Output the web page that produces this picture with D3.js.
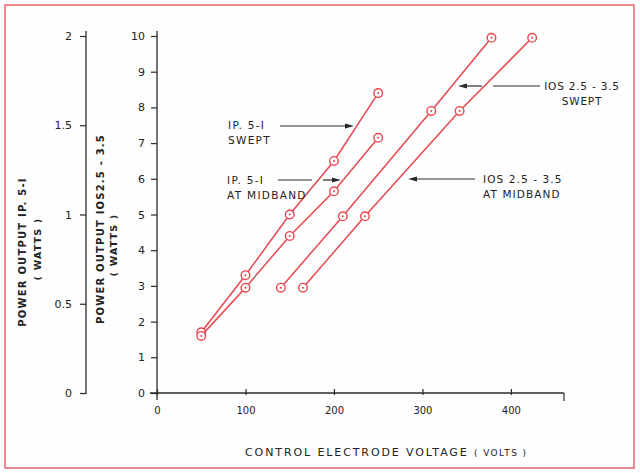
<!DOCTYPE html>
<html><head><meta charset="utf-8">
<script src="https://cdn.jsdelivr.net/npm/d3@7"></script>
<style>
body{margin:0;background:#fff;}
svg{display:block;}
text{font-family:"DejaVu Sans",sans-serif;fill:#222;}
</style></head>
<body><svg id="c" width="640" height="473"></svg>
<script>
// ---- data ----
const xTicks = [0,100,200,300,400];
const yTicks = [0,1,2,3,4,5,6,7,8,9,10];
const y2Ticks = [0,0.5,1,1.5,2];
const y2TickLabels = ["0","0.5","1","1.5","2"];
const ipSweptV = [50,100,150,200,250];
const ipSweptP = [1.7,3.3,5.0,6.5,8.4];
const ipMidV = [50,100,150,200,250];
const ipMidP = [1.6,2.95,4.4,5.65,7.15];
const iosSweptV = [140,210,310,378];
const iosSweptP = [2.95,4.95,7.9,9.95];
const iosMidV = [165,235,342,424];
const iosMidP = [2.95,4.95,7.9,9.95];

const RED = "#e8474f";
const INK = "#2a2a2a";
const svg = d3.select("#c");
svg.append("rect").attr("x",0).attr("y",0).attr("width",640).attr("height",473).attr("fill","#fefefe");
svg.append("rect").attr("x",5).attr("y",5).attr("width",629).attr("height",463)
  .attr("fill","none").attr("stroke","#e5656e").attr("stroke-width",1.5);

const x = d3.scaleLinear().domain([0,460]).range([157,564]);
const y = d3.scaleLinear().domain([0,10]).range([393,36]);
const y2 = d3.scaleLinear().domain([0,2]).range([393,36]);

// main y axis
const gy = svg.append("g").attr("transform","translate(157,0)")
  .call(d3.axisLeft(y).tickValues(yTicks).tickFormat(d3.format("d")).tickSize(6).tickPadding(6));
gy.select(".domain").remove();
gy.selectAll("line").attr("stroke",INK).attr("stroke-width",1.2);
gy.selectAll("text").attr("font-size",11).attr("fill",INK);
svg.append("line").attr("x1",157).attr("x2",157).attr("y1",31).attr("y2",400).attr("stroke",INK).attr("stroke-width",1.3);

// secondary y axis
const gy2 = svg.append("g").attr("transform","translate(86,0)")
  .call(d3.axisLeft(y2).tickValues(y2Ticks).tickFormat((d,i)=>y2TickLabels[i]).tickSize(6).tickPadding(8));
gy2.select(".domain").remove();
gy2.selectAll("line").attr("stroke",INK).attr("stroke-width",1.2);
gy2.selectAll("text").attr("font-size",11).attr("fill",INK);
svg.append("line").attr("x1",86).attr("x2",86).attr("y1",31).attr("y2",394).attr("stroke",INK).attr("stroke-width",1.3);

// x axis
const gx = svg.append("g").attr("transform","translate(0,393)")
  .call(d3.axisBottom(x).tickValues(xTicks).tickFormat(d3.format("d")).tickSizeInner(-4).tickSizeOuter(0).tickPadding(14));
gx.select(".domain").remove();
gx.selectAll("line").attr("stroke",INK).attr("stroke-width",1.2).attr("y2",-4).attr("y1",2);
gx.selectAll("text").attr("font-size",10).attr("fill",INK);
svg.append("line").attr("x1",150).attr("x2",x(460)).attr("y1",393).attr("y2",393).attr("stroke",INK).attr("stroke-width",1.3);
svg.append("line").attr("x1",x(460)).attr("x2",x(460)).attr("y1",393).attr("y2",401).attr("stroke",INK).attr("stroke-width",1.2);

// axis titles
svg.append("text").attr("x",245).attr("y",456).attr("font-size",11).attr("letter-spacing",1.9)
  .text("CONTROL ELECTRODE VOLTAGE ")
  .append("tspan").attr("font-size",9).attr("letter-spacing",1.4).text("( VOLTS )");
function vtitle(cx, cy, txt, size, ls){
  svg.append("text").attr("transform",`translate(${cx},${cy}) rotate(-90)`)
    .attr("text-anchor","middle").attr("dominant-baseline","central")
    .attr("font-size",size).attr("letter-spacing",ls).attr("font-weight","bold").text(txt);
}
vtitle(22,252,"POWER OUTPUT  IP. 5-I",10,1.2);
vtitle(37,249,"( WATTS )",9.5,1.2);
vtitle(100,229,"POWER OUTPUT  IOS2.5 - 3.5",10,1.2);
vtitle(113,245,"( WATTS )",9.5,1.2);

// series
const series = [[ipSweptV,ipSweptP],[ipMidV,ipMidP],[iosSweptV,iosSweptP],[iosMidV,iosMidP]];
const line = d3.line().x(d=>x(d[0])).y(d=>y(d[1]));
series.forEach(([vs,ps])=>{
  const pts = vs.map((v,i)=>[v,ps[i]]);
  svg.append("path").attr("d",line(pts)).attr("fill","none").attr("stroke",RED).attr("stroke-width",1.5);
  const g = svg.append("g");
  g.selectAll("circle.o").data(pts).join("circle").attr("class","o")
    .attr("cx",d=>x(d[0])).attr("cy",d=>y(d[1])).attr("r",4.3)
    .attr("fill","#fff").attr("stroke",RED).attr("stroke-width",1.4);
  g.selectAll("circle.i").data(pts).join("circle").attr("class","i")
    .attr("cx",d=>x(d[0])).attr("cy",d=>y(d[1])).attr("r",1).attr("fill",RED);
});

// annotations
function label(xx, yy, lines, anchor, ls){
  const t = svg.append("text").attr("font-size",10.5).attr("letter-spacing",ls==null?1.3:ls).attr("text-anchor",anchor||"start");
  lines.forEach((s,i)=>t.append("tspan").attr("x",xx).attr("y",yy+i*15).text(s));
}
function arrowHead(tipX, tipY, dir){
  const L=9, H=2.6;
  svg.append("path").attr("d",`M${tipX},${tipY} L${tipX-dir*L},${tipY-H} L${tipX-dir*L},${tipY+H} Z`).attr("fill",INK);
}
function seg(x1,x2,yy){svg.append("line").attr("x1",x1).attr("x2",x2).attr("y1",yy).attr("y2",yy).attr("stroke",INK).attr("stroke-width",1.2);}

label(228,129,["IP. 5-I","SWEPT"]);
seg(280,346,126); arrowHead(354,126,1);
label(227,184,["IP. 5-I","AT MIDBAND"]);
seg(278,312,180); seg(323,334,180); arrowHead(341,180,1);
label(582,90,["IOS 2.5 - 3.5","SWEPT"],"middle",0.8);
seg(493,540,86); seg(466,482,86); arrowHead(458,86,-1);
label(483,183,["IOS 2.5 - 3.5","AT MIDBAND"],"start",1.1);
seg(416,475,179); arrowHead(408,179,-1);
</script></body></html>
